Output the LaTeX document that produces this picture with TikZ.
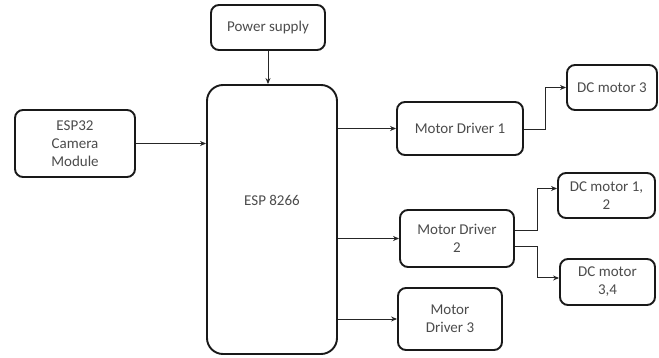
\documentclass[tikz,border=0pt]{standalone}
\usepackage{fontspec}
\setmainfont{Carlito}
\usetikzlibrary{arrows.meta}
\begin{document}
\begin{tikzpicture}[x=1pt,y=-1pt,
  box/.style={draw=black!90, line width=1.9pt, rounded corners=8pt, align=center,
    font=\fontsize{15}{18}\selectfont, text=black!70, inner sep=0pt},
  conn/.style={draw=black!85, line width=1pt, -{Stealth[length=6pt,width=5pt]}},
  lbl/.style={font=\fontsize{15}{18}\selectfont, text=black!70, inner sep=0pt}]
\useasboundingbox (0,0) rectangle (659,358);
\fill[white] (0,0) rectangle (659,358);
\node[box, minimum width=114pt, minimum height=45pt] (power) at (268,27.5) {Power supply};
\node[box, minimum width=120pt, minimum height=67pt] (cam) at (75,143.5) {ESP32\\Camera\\Module};
\node[box, rounded corners=16pt, minimum width=130pt, minimum height=269pt] (esp) at (272,219.5) {};
\node[lbl] (esplbl) at (272,200) {ESP 8266};
\node[box, minimum width=126pt, minimum height=53pt] (md1) at (460,128.5) {Motor Driver 1};
\node[box, minimum width=90pt, minimum height=45pt] (dc3) at (612,87.5) {DC motor 3};
\node[box, minimum width=114pt, minimum height=57pt] (md2) at (457,238.5) {Motor Driver\\2};
\node[box, minimum width=97pt, minimum height=45pt] (dc12) at (606.5,195.5) {DC motor 1,\\2};
\node[box, minimum width=95pt, minimum height=46pt] (dc34) at (607.5,282) {DC motor\\3,4};
\node[box, minimum width=104pt, minimum height=62pt] (md3) at (450,319) {Motor\\Driver 3};
\draw[conn] (power.south) -- (power.south |- esp.north);
\draw[conn] (cam.east) -- (cam.east -| esp.west);
\draw[conn] (md1.west -| esp.east) -- (md1.west);
\draw[conn] (md2.west -| esp.east) -- (md2.west);
\draw[conn] (esp.east |- md3.west) -- (md3.west);
\draw[conn] ([yshift=-1.5pt]md1.east) -- ++(22,0) |- (dc3.west);
\draw[conn] ([yshift=7.5pt]md2.east) -- ++(23,0) |- ([yshift=7pt]dc12.west);
\draw[conn] ([yshift=-8.5pt]md2.east) -- ++(23,0) |- ([yshift=4pt]dc34.west);
\end{tikzpicture}
\end{document}
